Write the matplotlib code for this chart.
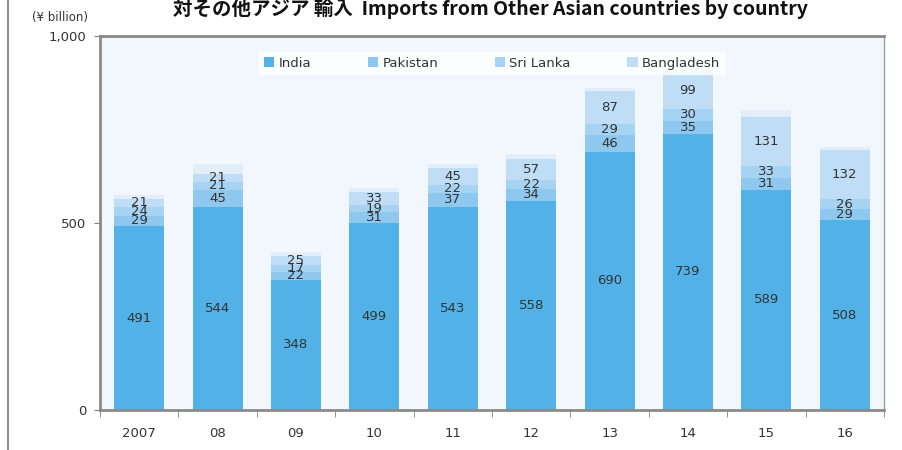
import numpy as np
import matplotlib
matplotlib.use("Agg")
import matplotlib.pyplot as plt
from matplotlib.patches import Patch
from matplotlib.lines import Line2D

plt.rcParams['font.family'] = ['DejaVu Sans', 'Noto Sans CJK JP']

years = ['2007', '08', '09', '10', '11', '12', '13', '14', '15', '16']
india = [491, 544, 348, 499, 543, 558, 690, 739, 589, 508]
pakistan = [29, 45, 22, 31, 37, 34, 46, 35, 31, 29]
sri_lanka = [24, 21, 17, 19, 22, 22, 29, 30, 33, 26]
bangladesh = [21, 21, 25, 33, 45, 57, 87, 99, 131, 132]
others = [11, 27, 11, 11, 10, 13, 8, 10, 17, 8]  # unlabelled top segment

series = [('India', india, '#52b2e7'),
          ('Pakistan', pakistan, '#8ec8ee'),
          ('Sri Lanka', sri_lanka, '#a6d3f2'),
          ('Bangladesh', bangladesh, '#bfddf5')]

fig = plt.figure(figsize=(9.03, 4.5), dpi=100)
ax = fig.add_axes([100 / 903, 40 / 450, 784 / 903, 374 / 450])
ax.set_facecolor('#f2f6fd')

x = np.arange(len(years))
bottom = np.zeros(len(years))
for name, vals, color in series:
    vals = np.array(vals)
    ax.bar(x, vals, width=0.64, bottom=bottom, color=color, label=name)
    for xi, b, v in zip(x, bottom, vals):
        ax.text(xi, b + v / 2, str(v), ha='center', va='center',
                fontsize=9.5, color='#333333')
    bottom += vals
ax.bar(x, others, width=0.64, bottom=bottom, color='#e3eefa')

ax.set_xlim(-0.5, len(years) - 0.5)
ax.set_ylim(0, 1000)
ax.set_yticks([0, 500, 1000])
ax.set_yticklabels(['0', '500', '1,000'], fontsize=9.5, color='#333333')
ax.set_xticks(x)
ax.set_xticklabels(years, fontsize=9.5, color='#333333')
ax.tick_params(axis='x', length=0, pad=12)
ax.set_xticks(np.arange(-0.5, len(years)), minor=True)
ax.tick_params(axis='x', which='minor', length=5, color='#808080', direction='out')
ax.tick_params(axis='y', length=4, color='#808080', pad=6)

for side in ['left', 'bottom', 'top']:
    ax.spines[side].set_color('#8a8a8a')
    ax.spines[side].set_linewidth(2)
ax.spines['right'].set_color('#a0a0a0')
ax.spines['right'].set_linewidth(1)

handles = [Patch(facecolor=c, edgecolor='none', label=n) for n, _, c in series]
leg = ax.legend(handles=handles, loc='upper center', bbox_to_anchor=(0.5, 0.975),
                ncol=4, frameon=True, fontsize=9.5, handlelength=0.8,
                handleheight=0.8, handletextpad=0.3, columnspacing=4.3,
                borderpad=0.35, fancybox=False)
leg.get_frame().set_facecolor('white')
leg.get_frame().set_edgecolor('white')
leg.set_zorder(5)
for t in leg.get_texts():
    t.set_color('#333333')

fig.text(490 / 903, 1 - 8 / 450, '対その他アジア 輸入  Imports from Other Asian countries by country',
         ha='center', va='center', fontsize=14, fontweight='bold',
         family=['Noto Sans CJK JP', 'DejaVu Sans'], color='#111111')
fig.text(88 / 903, 1 - 18 / 450, '(¥ billion)', ha='right', va='center',
         fontsize=8.5, color='#333333')

fig.add_artist(Line2D([8 / 903, 8 / 903], [0, 1], transform=fig.transFigure,
                      color='#909090', linewidth=1.5))

fig.savefig('out.png', dpi=100)
